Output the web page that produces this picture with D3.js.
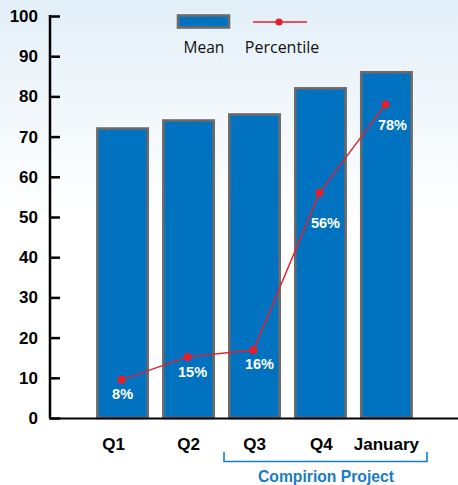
<!DOCTYPE html>
<html><head><meta charset="utf-8">
<script src="https://cdn.jsdelivr.net/npm/d3@7"></script>
<style>html,body{margin:0;padding:0;background:#fff}svg{display:block}</style>
</head><body>
<script>
const categories = ["Q1","Q2","Q3","Q4","January"];
const meanValues = [72, 74, 75.5, 82, 86];
const percentileValues = [9.5, 15.2, 16.9, 56, 78];
const percentileLabels = ["8%","15%","16%","56%","78%"];
const yTicks = [0,10,20,30,40,50,60,70,80,90,100];
const groupLabel = "Compirion Project";

const W = 458, H = 485;
const svg = d3.select("body").append("svg").attr("width", W).attr("height", H);
const defs = svg.append("defs");
const g = defs.append("linearGradient").attr("id","bg").attr("x1",0).attr("y1",0).attr("x2",0).attr("y2",1);
g.append("stop").attr("offset","0%").attr("stop-color","#e2eff8");
g.append("stop").attr("offset","22%").attr("stop-color","#f1f7fb");
g.append("stop").attr("offset","45%").attr("stop-color","#ffffff");
g.append("stop").attr("offset","100%").attr("stop-color","#ffffff");
svg.append("rect").attr("width",W).attr("height",H).attr("fill","url(#bg)");

const x = d3.scaleBand().domain(categories).range([83, 426]).paddingInner(0.2).paddingOuter(0.2);
const y = d3.scaleLinear().domain([0,100]).range([418, 16]);

// bars
svg.selectAll("rect.bar").data(categories).join("rect").attr("class","bar")
  .attr("x", d => x(d)+1.2).attr("width", x.bandwidth()-2.4)
  .attr("y", (d,i) => y(meanValues[i])).attr("height", (d,i) => y(0)-y(meanValues[i]))
  .attr("fill","#0072c0").attr("stroke","#6b6b6b").attr("stroke-width",2.6);

// axes
const yAxis = d3.axisLeft(y).tickValues(yTicks).tickSize(-10).tickPadding(12);
const ya = svg.append("g").attr("transform","translate(50,0)").call(yAxis);
ya.select(".domain").attr("d", `M-0,${y(100)-1}V${y(0)}`).attr("stroke","#000").attr("stroke-width",2.5);
ya.selectAll(".tick line").attr("stroke","#000").attr("stroke-width",2.5);
ya.selectAll(".tick text").attr("font-family","Liberation Sans, Arial, sans-serif").attr("font-weight","bold")
  .attr("font-size",17).attr("fill","#000");

svg.append("line").attr("x1",49).attr("x2",458).attr("y1",y(0)+0.5).attr("y2",y(0)+0.5)
  .attr("stroke","#000").attr("stroke-width",2);

// x labels
svg.selectAll("text.xl").data(categories).join("text").attr("class","xl")
  .attr("x", (d,i) => x(d)+x.bandwidth()/2 + (i===0?-9:(i===3?1:0)))
  .attr("y", 450).attr("text-anchor","middle")
  .attr("font-family","Liberation Sans, Arial, sans-serif").attr("font-weight","bold").attr("font-size",17)
  .attr("fill","#000").text(d=>d);

// line
const cx = d => x(d)+x.bandwidth()/2 - 1;
const line = d3.line().x((d,i)=>cx(categories[i])).y(d=>y(d));
svg.append("path").datum(percentileValues).attr("d", line).attr("fill","none")
  .attr("stroke","#e41e2b").attr("stroke-width",1.4);
svg.selectAll("circle.pt").data(percentileValues).join("circle").attr("class","pt")
  .attr("cx",(d,i)=>cx(categories[i])).attr("cy",d=>y(d)).attr("r",4).attr("fill","#e41e2b");
const labDx = [1,5,6,6,7];
const labDy = [19,20,19,35,26];
svg.selectAll("text.pl").data(percentileLabels).join("text").attr("class","pl")
  .attr("x",(d,i)=>cx(categories[i])+labDx[i]).attr("y",(d,i)=>y(percentileValues[i])+labDy[i])
  .attr("text-anchor","middle").attr("font-family","Liberation Sans, Arial, sans-serif")
  .attr("font-weight","bold").attr("font-size",14.5).attr("fill","#fff").text(d=>d);

// legend
svg.append("rect").attr("x",178).attr("y",15.5).attr("width",51).attr("height",12)
  .attr("fill","#0072c0").attr("stroke","#6b6b6b").attr("stroke-width",2.6);
svg.append("text").attr("x",204).attr("y",53).attr("text-anchor","middle")
  .attr("font-family","Open Sans, sans-serif").attr("font-size",15.5).attr("fill","#111").text("Mean");
svg.append("line").attr("x1",253).attr("x2",307).attr("y1",22).attr("y2",22)
  .attr("stroke","#e41e2b").attr("stroke-width",1.4);
svg.append("circle").attr("cx",279).attr("cy",22).attr("r",3.6).attr("fill","#e41e2b");
svg.append("text").attr("x",282).attr("y",53).attr("text-anchor","middle")
  .attr("font-family","Open Sans, sans-serif").attr("font-size",16).attr("fill","#111").text("Percentile");

// bracket
svg.append("path").attr("d","M224,452V461.5H427V452").attr("fill","none")
  .attr("stroke","#1a7cc4").attr("stroke-width",1.6);
svg.append("text").attr("x",326).attr("y",482).attr("text-anchor","middle")
  .attr("font-family","Liberation Sans, Arial, sans-serif").attr("font-weight","bold").attr("font-size",15.7)
  .attr("fill","#1a7cc4").text(groupLabel);
</script>
</body></html>
